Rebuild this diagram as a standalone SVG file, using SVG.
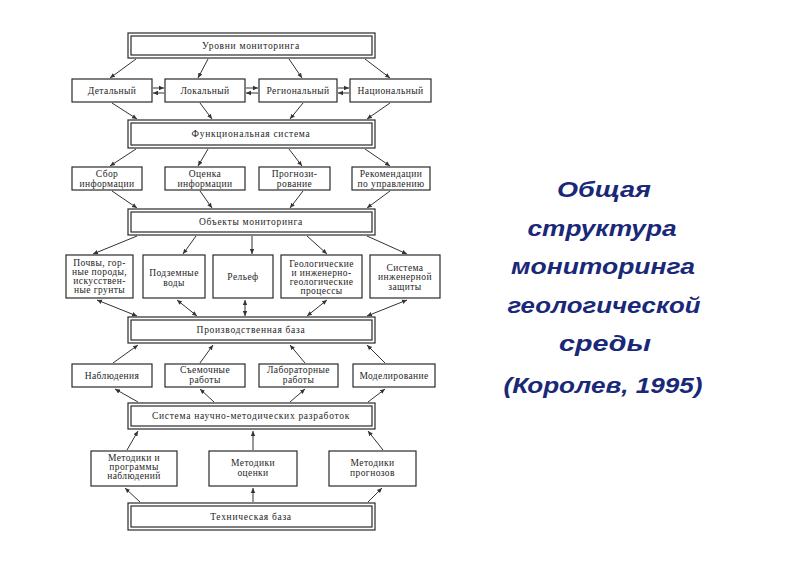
<svg xmlns="http://www.w3.org/2000/svg" width="800" height="565" viewBox="0 0 800 565">
<style>
.b{fill:#fff;stroke:#2a2a2a;stroke-width:1.2}
.t{font-family:"Liberation Serif","Times New Roman",serif;font-size:9.5px;fill:#1e1e1e;text-anchor:middle;letter-spacing:0.4px}
.h{font-family:"Liberation Serif","Times New Roman",serif;font-size:9.5px;fill:#1e1e1e;text-anchor:middle;letter-spacing:0.7px}
.c line{stroke:#333;stroke-width:1;marker-end:url(#ah)}
.c line.d{marker-start:url(#ah)}
.ti{font-family:"Liberation Sans",Arial,sans-serif;font-weight:bold;font-style:italic;font-size:22px;fill:#1a2878;text-anchor:middle}
</style>
<defs>
<marker id="ah" markerWidth="6" markerHeight="6" refX="5" refY="3" orient="auto-start-reverse" markerUnits="userSpaceOnUse">
<path d="M0,0.8 L5,3 L0,5.2 Z" fill="#333"/>
</marker>
</defs>
<rect width="800" height="565" fill="#fff"/>

<g class="c" id="connectors">
<line x1="136" y1="59" x2="110" y2="78"/>
<line x1="208" y1="59" x2="198" y2="78"/>
<line x1="289" y1="59" x2="302" y2="78"/>
<line x1="365" y1="59" x2="390" y2="78"/>
<line x1="153" y1="88" x2="164" y2="88"/>
<line x1="164" y1="93" x2="153" y2="93"/>
<line x1="246" y1="88" x2="258" y2="88"/>
<line x1="258" y1="93" x2="246" y2="93"/>
<line x1="338" y1="88" x2="349" y2="88"/>
<line x1="349" y1="93" x2="338" y2="93"/>
<line x1="112" y1="103" x2="137" y2="119"/>
<line x1="200" y1="103" x2="212" y2="119"/>
<line x1="303" y1="103" x2="290" y2="119"/>
<line x1="390" y1="103" x2="367" y2="119"/>
<line x1="136" y1="149" x2="110" y2="166"/>
<line x1="208" y1="149" x2="198" y2="166"/>
<line x1="289" y1="149" x2="302" y2="166"/>
<line x1="365" y1="149" x2="390" y2="166"/>
<line x1="112" y1="191" x2="137" y2="208"/>
<line x1="200" y1="191" x2="212" y2="208"/>
<line x1="303" y1="191" x2="290" y2="208"/>
<line x1="390" y1="191" x2="367" y2="208"/>
<line x1="137" y1="236" x2="93" y2="254"/>
<line x1="196" y1="236" x2="183" y2="254"/>
<line x1="252" y1="236" x2="252" y2="254"/>
<line x1="307" y1="236" x2="327" y2="254"/>
<line x1="367" y1="236" x2="407" y2="254"/>
<line class="d" x1="97" y1="300" x2="137" y2="316"/>
<line class="d" x1="177" y1="300" x2="197" y2="316"/>
<line class="d" x1="245" y1="300" x2="245" y2="316"/>
<line class="d" x1="327" y1="300" x2="307" y2="316"/>
<line class="d" x1="407" y1="300" x2="367" y2="316"/>
<line x1="113" y1="363" x2="138" y2="345"/>
<line x1="200" y1="363" x2="213" y2="345"/>
<line x1="305" y1="363" x2="290" y2="345"/>
<line x1="385" y1="363" x2="367" y2="345"/>
<line x1="138" y1="402" x2="115" y2="389"/>
<line x1="214" y1="402" x2="200" y2="389"/>
<line x1="290" y1="402" x2="305" y2="389"/>
<line x1="368" y1="402" x2="385" y2="389"/>
<line x1="127" y1="450" x2="138" y2="431"/>
<line x1="253" y1="450" x2="253" y2="431"/>
<line x1="383" y1="450" x2="368" y2="431"/>
<line x1="140" y1="502" x2="125" y2="488"/>
<line x1="253" y1="502" x2="253" y2="488"/>
<line x1="368" y1="502" x2="382" y2="488"/>
</g>

<g id="levels">
<rect class="b" x="128" y="33" width="247" height="25"/><rect class="b" x="131" y="36" width="241" height="19"/>
<text class="h" x="251" y="49">Уровни мониторинга</text>
</g>
<g id="detailed"><rect class="b" x="72" y="79" width="80" height="23"/><text class="t" x="112" y="94">Детальный</text></g>
<g id="local"><rect class="b" x="165" y="79" width="80" height="23"/><text class="t" x="205" y="94">Локальный</text></g>
<g id="regional"><rect class="b" x="259" y="79" width="78" height="23"/><text class="t" x="298" y="94">Региональный</text></g>
<g id="national"><rect class="b" x="350" y="79" width="81" height="23"/><text class="t" x="390.5" y="94">Национальный</text></g>

<g id="functional">
<rect class="b" x="128" y="120" width="247" height="28"/><rect class="b" x="131" y="123" width="241" height="22"/>
<text class="h" x="251" y="137">Функциональная система</text>
</g>
<g id="collect"><rect class="b" x="72" y="167" width="70" height="23"/><text class="t" x="107" y="177">Сбор</text><text class="t" x="107" y="187">информации</text></g>
<g id="assess"><rect class="b" x="165" y="167" width="80" height="23"/><text class="t" x="205" y="177">Оценка</text><text class="t" x="205" y="187">информации</text></g>
<g id="forecast"><rect class="b" x="259" y="167" width="71" height="23"/><text class="t" x="294.5" y="177">Прогнози-</text><text class="t" x="294.5" y="187">рование</text></g>
<g id="recommend"><rect class="b" x="352" y="167" width="78" height="23"/><text class="t" x="391" y="177">Рекомендации</text><text class="t" x="391" y="187">по управлению</text></g>

<g id="objects">
<rect class="b" x="128" y="209" width="247" height="26"/><rect class="b" x="131" y="212" width="241" height="20"/>
<text class="h" x="251" y="225">Объекты мониторинга</text>
</g>
<g id="soils"><rect class="b" x="66" y="255" width="67" height="43"/><text class="t" x="99.5" y="266">Почвы, гор-</text><text class="t" x="99.5" y="275">ные породы,</text><text class="t" x="99.5" y="284">искусствен-</text><text class="t" x="99.5" y="293">ные грунты</text></g>
<g id="groundwater"><rect class="b" x="143" y="255" width="62" height="43"/><text class="t" x="174" y="276">Подземные</text><text class="t" x="174" y="286">воды</text></g>
<g id="relief"><rect class="b" x="213" y="255" width="60" height="43"/><text class="t" x="243" y="280">Рельеф</text></g>
<g id="geoproc"><rect class="b" x="281" y="255" width="81" height="43"/><text class="t" x="321.5" y="267">Геологические</text><text class="t" x="321.5" y="276">и инженерно-</text><text class="t" x="321.5" y="285">геологические</text><text class="t" x="321.5" y="294">процессы</text></g>
<g id="protection"><rect class="b" x="370" y="255" width="70" height="43"/><text class="t" x="405" y="271">Система</text><text class="t" x="405" y="280">инженерной</text><text class="t" x="405" y="290">защиты</text></g>

<g id="production">
<rect class="b" x="128" y="317" width="247" height="26"/><rect class="b" x="131" y="320" width="241" height="20"/>
<text class="h" x="251" y="333">Производственная база</text>
</g>
<g id="observ"><rect class="b" x="72" y="364" width="80" height="23"/><text class="t" x="112" y="379">Наблюдения</text></g>
<g id="survey"><rect class="b" x="165" y="364" width="80" height="23"/><text class="t" x="205" y="373">Съемочные</text><text class="t" x="205" y="383">работы</text></g>
<g id="lab"><rect class="b" x="259" y="364" width="79" height="23"/><text class="t" x="298.5" y="373">Лабораторные</text><text class="t" x="298.5" y="383">работы</text></g>
<g id="model"><rect class="b" x="353" y="364" width="82" height="23"/><text class="t" x="394" y="379">Моделирование</text></g>

<g id="scimethod">
<rect class="b" x="128" y="403" width="247" height="26"/><rect class="b" x="131" y="406" width="241" height="20"/>
<text class="h" x="251" y="419">Система научно-методических разработок</text>
</g>
<g id="m-observ"><rect class="b" x="91" y="451" width="86" height="35"/><text class="t" x="134" y="461">Методики и</text><text class="t" x="134" y="470">программы</text><text class="t" x="134" y="479">наблюдений</text></g>
<g id="m-assess"><rect class="b" x="209" y="451" width="88" height="35"/><text class="t" x="253" y="466">Методики</text><text class="t" x="253" y="476">оценки</text></g>
<g id="m-forecast"><rect class="b" x="329" y="451" width="87" height="35"/><text class="t" x="372.5" y="466">Методики</text><text class="t" x="372.5" y="476">прогнозов</text></g>

<g id="techbase">
<rect class="b" x="128" y="503" width="247" height="27"/><rect class="b" x="131" y="506" width="241" height="21"/>
<text class="h" x="251" y="520">Техническая база</text>
</g>

<g id="title">
<text class="ti" x="604" y="197" textLength="94" lengthAdjust="spacingAndGlyphs">Общая</text>
<text class="ti" x="602" y="236" textLength="149" lengthAdjust="spacingAndGlyphs">структура</text>
<text class="ti" x="603" y="274" textLength="184" lengthAdjust="spacingAndGlyphs">мониторинга</text>
<text class="ti" x="604" y="313" textLength="193" lengthAdjust="spacingAndGlyphs">геологической</text>
<text class="ti" x="605" y="351" textLength="92" lengthAdjust="spacingAndGlyphs">среды</text>
<text class="ti" x="603" y="393" textLength="199" lengthAdjust="spacingAndGlyphs">(Королев, 1995)</text>
</g>
</svg>
